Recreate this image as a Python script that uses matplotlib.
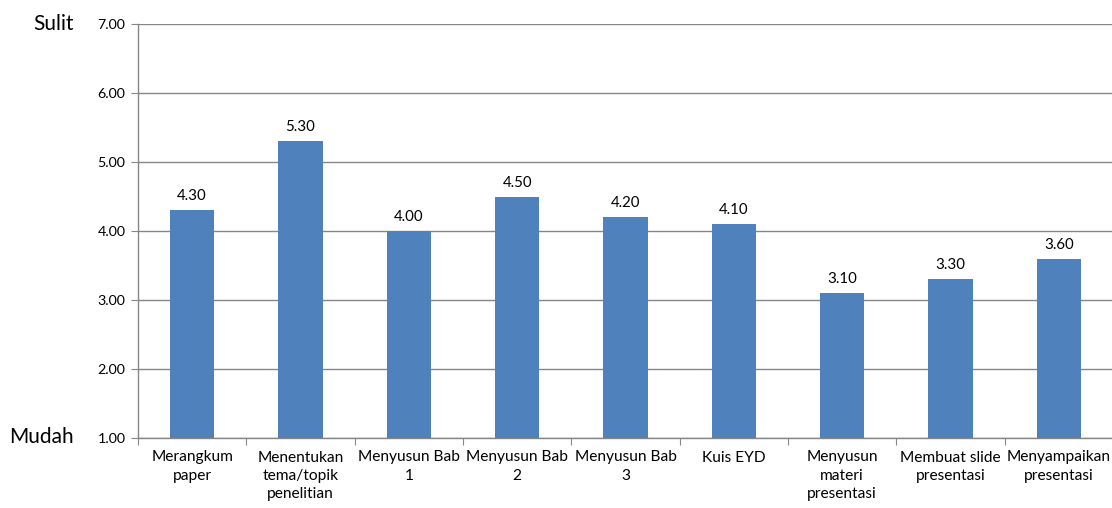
import matplotlib.pyplot as plt
from matplotlib.ticker import FixedLocator, NullFormatter

plt.rcParams['font.family'] = ['Lato', 'DejaVu Sans']

categories = [
    "Merangkum\npaper",
    "Menentukan\ntema/topik\npenelitian",
    "Menyusun Bab\n1",
    "Menyusun Bab\n2",
    "Menyusun Bab\n3",
    "Kuis EYD",
    "Menyusun\nmateri\npresentasi",
    "Membuat slide\npresentasi",
    "Menyampaikan\npresentasi",
]
values = [4.30, 5.30, 4.00, 4.50, 4.20, 4.10, 3.10, 3.30, 3.60]
y_ticks = [1, 2, 3, 4, 5, 6, 7]

bar_color = "#4F81BD"
grid_color = "#868686"
text_color = "#000000"

fig = plt.figure(figsize=(11.12, 5.08), dpi=100)
ax = fig.add_axes([138 / 1112, 70 / 508, 975 / 1112, 414 / 508])

x = list(range(len(categories)))
ax.bar(x, [v - 1 for v in values], bottom=1, width=0.41, color=bar_color, zorder=3)

for xi, v in zip(x, values):
    ax.annotate(f"{v:.2f}", (xi, v), xytext=(0, 5), textcoords="offset points",
                ha="center", va="bottom", fontsize=10.8, color=text_color)

ax.set_xlim(-0.5, len(categories) - 0.5)
ax.set_ylim(1, 7)
ax.set_yticks(y_ticks)
ax.set_yticklabels([f"{t:.2f}" for t in y_ticks], fontsize=10.3)
ax.yaxis.grid(True, color=grid_color, linewidth=1.0, zorder=0)

# category separators as ticks; labels at bar centres
ax.xaxis.set_major_locator(FixedLocator([i - 0.5 for i in range(len(categories) + 1)]))
ax.xaxis.set_major_formatter(NullFormatter())
ax.xaxis.set_minor_locator(FixedLocator(x))
ax.set_xticklabels(categories, minor=True, fontsize=11.2, linespacing=1.38)
ax.tick_params(axis="x", which="minor", length=0, pad=9)
ax.tick_params(axis="x", which="major", length=5, color=grid_color, direction="out")
ax.tick_params(axis="y", length=5, color=grid_color, direction="out", pad=4)

for side in ("top", "right"):
    ax.spines[side].set_visible(False)
for side in ("left", "bottom"):
    ax.spines[side].set_color(grid_color)
    ax.spines[side].set_linewidth(1.0)

fig.text(74 / 1112, 1 - 24 / 508, "Sulit", fontsize=15, ha="right", va="center")
fig.text(74 / 1112, 1 - 437 / 508, "Mudah", fontsize=15, ha="right", va="center")

fig.savefig("out.png", dpi=100)
